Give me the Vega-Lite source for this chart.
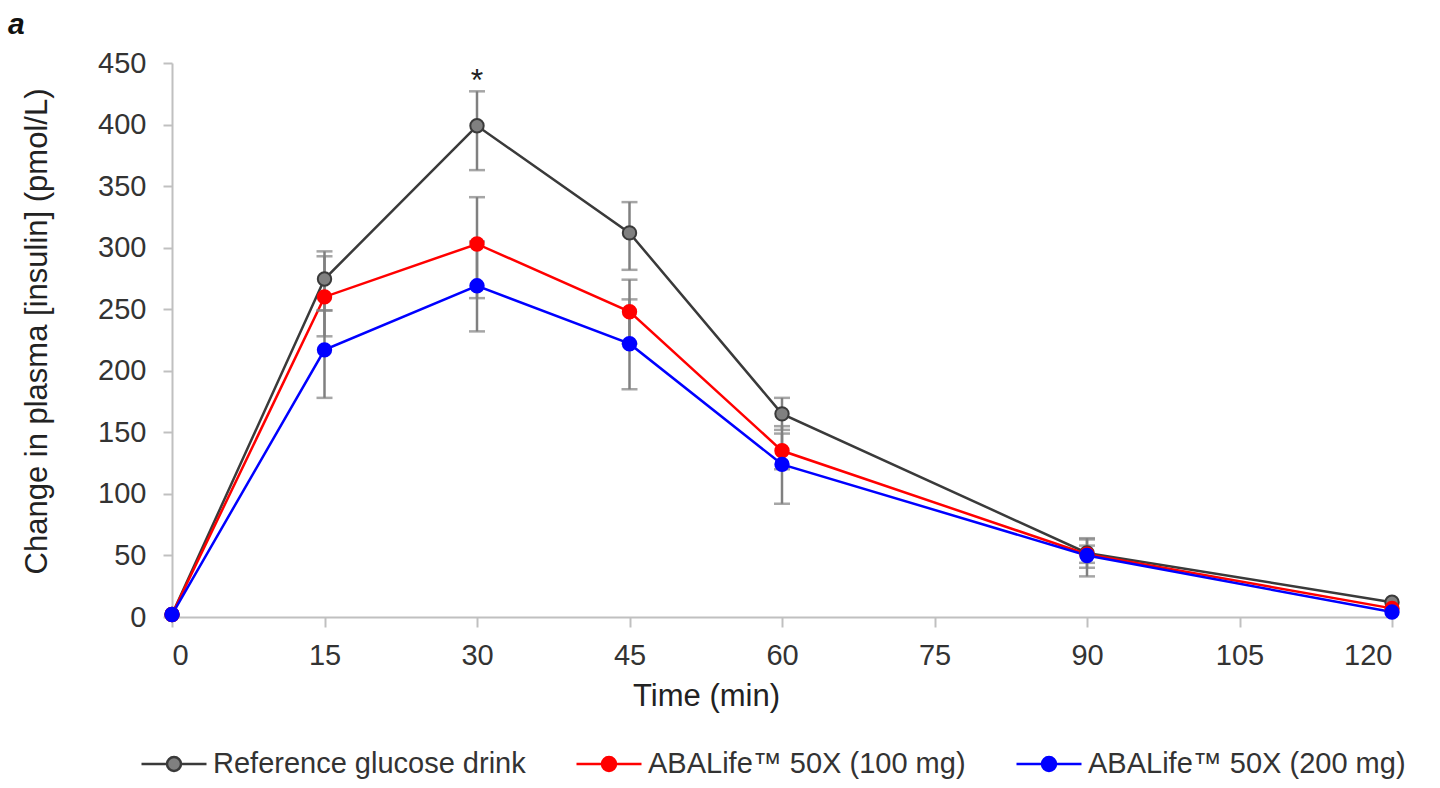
{
  "$schema": "https://vega.github.io/schema/vega-lite/v6.json",
  "width": 1220,
  "height": 554,
  "autosize": {"type": "none"},
  "padding": {"left": 172, "top": 63, "right": 48, "bottom": 171},
  "background": "white",
  "title": {
    "text": "a",
    "anchor": "start",
    "frame": "group",
    "dx": -164,
    "dy": 21,
    "offset": 6,
    "baseline": "alphabetic",
    "font": "Liberation Sans",
    "fontSize": 30,
    "fontStyle": "italic",
    "fontWeight": "bold",
    "color": "#111111"
  },
  "config": {
    "view": {"stroke": null},
    "font": "Liberation Sans",
    "axis": {
      "grid": false,
      "domainColor": "#c0c0c0",
      "domainWidth": 2,
      "tickColor": "#c0c0c0",
      "tickWidth": 2,
      "labelFont": "Liberation Sans",
      "labelFontSize": 29,
      "labelColor": "#333333",
      "titleFont": "Liberation Sans",
      "titleFontSize": 31,
      "titleFontWeight": "normal",
      "titleColor": "#222222"
    }
  },
  "data": {
    "values": [
      {"time": 0, "series": "Reference glucose drink", "value": 2},
      {"time": 15, "series": "Reference glucose drink", "value": 274.5, "lo": 249, "hi": 297},
      {"time": 30, "series": "Reference glucose drink", "value": 399, "lo": 363, "hi": 427},
      {"time": 45, "series": "Reference glucose drink", "value": 312, "lo": 282, "hi": 337},
      {"time": 60, "series": "Reference glucose drink", "value": 165, "lo": 152, "hi": 178},
      {"time": 90, "series": "Reference glucose drink", "value": 52, "lo": 40, "hi": 64},
      {"time": 120, "series": "Reference glucose drink", "value": 12},
      {"time": 0, "series": "ABALife™ 50X (100 mg)", "value": 2},
      {"time": 15, "series": "ABALife™ 50X (100 mg)", "value": 260, "lo": 228, "hi": 293},
      {"time": 30, "series": "ABALife™ 50X (100 mg)", "value": 303, "lo": 259, "hi": 341},
      {"time": 45, "series": "ABALife™ 50X (100 mg)", "value": 248, "lo": 222, "hi": 274},
      {"time": 60, "series": "ABALife™ 50X (100 mg)", "value": 135, "lo": 120, "hi": 149},
      {"time": 90, "series": "ABALife™ 50X (100 mg)", "value": 51, "lo": 44, "hi": 58},
      {"time": 120, "series": "ABALife™ 50X (100 mg)", "value": 7},
      {"time": 0, "series": "ABALife™ 50X (200 mg)", "value": 2},
      {"time": 15, "series": "ABALife™ 50X (200 mg)", "value": 217, "lo": 178, "hi": 249},
      {"time": 30, "series": "ABALife™ 50X (200 mg)", "value": 269, "lo": 232, "hi": 305},
      {"time": 45, "series": "ABALife™ 50X (200 mg)", "value": 222, "lo": 185, "hi": 258},
      {"time": 60, "series": "ABALife™ 50X (200 mg)", "value": 124, "lo": 92, "hi": 155},
      {"time": 90, "series": "ABALife™ 50X (200 mg)", "value": 50, "lo": 33, "hi": 63},
      {"time": 120, "series": "ABALife™ 50X (200 mg)", "value": 4}
    ]
  },
  "encoding": {
    "x": {
      "field": "time",
      "type": "quantitative",
      "scale": {"domain": [0, 120], "nice": false, "zero": false},
      "axis": {
        "values": [0, 15, 30, 45, 60, 75, 90, 105, 120],
        "tickSize": 10,
        "labelPadding": 14,
        "title": "Time (min)",
        "titleX": 534,
        "titleY": 88,
        "titleAnchor": null,
        "titleAlign": "center",
        "titleBaseline": "alphabetic"
      }
    }
  },
  "layer": [
    {
      "mark": {"type": "line", "strokeWidth": 2.5},
      "encoding": {
        "y": {
          "field": "value",
          "type": "quantitative",
          "scale": {"domain": [0, 450], "nice": false},
          "axis": {
            "values": [0, 50, 100, 150, 200, 250, 300, 350, 400, 450],
            "tickSize": 9,
            "labelPadding": 17,
            "title": "Change in plasma [insulin] (pmol/L)",
            "titleX": -135,
            "titleY": 268,
            "titleAngle": -90,
            "titleAlign": "center",
            "titleBaseline": "middle"
          }
        },
        "color": {
          "field": "series",
          "type": "nominal",
          "scale": {
            "domain": ["Reference glucose drink", "ABALife™ 50X (100 mg)", "ABALife™ 50X (200 mg)"],
            "range": ["#3a3a3a", "#ff0000", "#0000ff"]
          },
          "legend": {
            "title": null,
            "orient": "none",
            "direction": "horizontal",
            "legendX": -32,
            "legendY": 667,
            "padding": 0,
            "columnPadding": 45,
            "labelOffset": 5,
            "labelFont": "Liberation Sans",
            "labelFontSize": 29,
            "labelColor": "#333333",
            "labelLimit": 0,
            "symbolSize": 4225,
            "symbolOffset": 0,
            "symbolStrokeWidth": 2.5,
            "symbolType": "M-1,0L-0.215,0M0.215,0L1,0M-0.215,0A0.215,0.215,0,1,1,0.215,0A0.215,0.215,0,1,1,-0.215,0Z",
            "encode": {
              "symbols": {
                "update": {
                  "fill": {"scale": "fill", "field": "value"},
                  "stroke": {"scale": "color", "field": "value"}
                }
              }
            }
          }
        }
      }
    },
    {
      "mark": {"type": "rule", "color": "#808080", "strokeWidth": 2.5},
      "encoding": {
        "y": {"field": "lo", "type": "quantitative"},
        "y2": {"field": "hi"}
      }
    },
    {
      "mark": {"type": "tick", "orient": "horizontal", "color": "#808080", "size": 16, "thickness": 2.5},
      "encoding": {"y": {"field": "lo", "type": "quantitative"}}
    },
    {
      "mark": {"type": "tick", "orient": "horizontal", "color": "#808080", "size": 16, "thickness": 2.5},
      "encoding": {"y": {"field": "hi", "type": "quantitative"}}
    },
    {
      "mark": {"type": "point", "filled": true, "opacity": 1, "size": 180, "strokeWidth": 2},
      "encoding": {
        "y": {"field": "value", "type": "quantitative"},
        "fill": {
          "field": "series",
          "type": "nominal",
          "scale": {
            "domain": ["Reference glucose drink", "ABALife™ 50X (100 mg)", "ABALife™ 50X (200 mg)"],
            "range": ["#808080", "#ff0000", "#0000ff"]
          },
          "legend": null
        },
        "stroke": {
          "field": "series",
          "type": "nominal",
          "scale": {
            "domain": ["Reference glucose drink", "ABALife™ 50X (100 mg)", "ABALife™ 50X (200 mg)"],
            "range": ["#3a3a3a", "#ff0000", "#0000ff"]
          },
          "legend": null
        }
      }
    },
    {
      "data": {"values": [{"time": 30, "value": 440, "label": "*"}]},
      "mark": {"type": "text", "fontSize": 32, "font": "Liberation Sans", "color": "#222222", "baseline": "middle", "dy": 6},
      "encoding": {
        "y": {"field": "value", "type": "quantitative"},
        "text": {"field": "label"}
      }
    }
  ]
}
